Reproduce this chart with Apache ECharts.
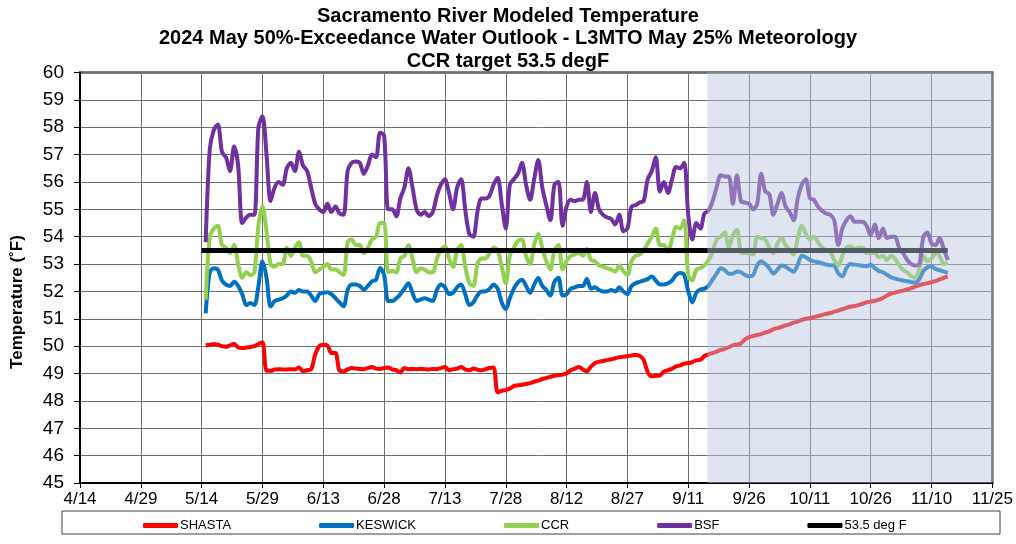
<!DOCTYPE html>
<html>
<head>
<meta charset="utf-8">
<title>Sacramento River Modeled Temperature</title>
<script src="https://cdn.jsdelivr.net/npm/echarts@6/dist/echarts.min.js"></script>
<style>
  html, body { margin: 0; padding: 0; background: #fff; }
  #chart { width: 1016px; height: 544px; }
</style>
</head>
<body>
<div id="chart"></div>
<script>
// axis runs from 4/14 to 11/25, ticks every 15 days
const axisStart = '2024-04-14';
const axisEnd = '2024-11-25';
const firstDate = '2024-05-15'; // first daily value of each series
const shadeStart = '2024-09-16';
const targetDates = ['2024-05-14', '2024-11-14'];
const targetValue = 53.5;

const shasta = [
  50.03, 50.05, 50.08, 50.05, 50.0, 49.98, 50.03, 50.09, 49.95, 49.93,
  49.95, 49.97, 50.0, 50.08, 50.14, 49.1, 49.1, 49.15, 49.16, 49.15,
  49.15, 49.16, 49.15, 49.22, 49.08, 49.12, 49.15, 49.7, 50.0, 50.05,
  50.03, 49.75, 49.75, 49.1, 49.08, 49.15, 49.2, 49.18, 49.17, 49.16,
  49.2, 49.24, 49.18, 49.17, 49.2, 49.22, 49.15, 49.12, 49.04, 49.2,
  49.16, 49.17, 49.16, 49.17, 49.16, 49.15, 49.17, 49.16, 49.2, 49.24,
  49.12, 49.16, 49.18, 49.24, 49.15, 49.12, 49.18, 49.14, 49.12, 49.16,
  49.2, 49.22, 48.31, 48.37, 48.4, 48.45, 48.55, 48.57, 48.59, 48.62,
  48.65, 48.7, 48.74, 48.8, 48.84, 48.88, 48.92, 48.94, 48.96, 49.0,
  49.12, 49.18, 49.24, 49.15, 49.08, 49.25, 49.38, 49.43, 49.46, 49.49,
  49.52, 49.56, 49.6, 49.61, 49.63, 49.66, 49.68, 49.65, 49.5, 49.05,
  48.9, 48.92, 48.93, 49.08, 49.12, 49.18, 49.26, 49.3, 49.36, 49.38,
  49.42, 49.48, 49.5, 49.64, 49.7, 49.75, 49.8, 49.86, 49.9, 49.96,
  50.03, 50.06, 50.1, 50.25, 50.33, 50.37, 50.41, 50.44, 50.5, 50.54,
  50.62, 50.66, 50.7, 50.76, 50.8, 50.86, 50.9, 50.96, 51.0, 51.02,
  51.06, 51.1, 51.14, 51.18, 51.21, 51.26, 51.3, 51.35, 51.4, 51.44,
  51.47, 51.5, 51.55, 51.6, 51.63, 51.66, 51.7, 51.76, 51.85, 51.92,
  51.96, 52.0, 52.03, 52.07, 52.12, 52.18, 52.23, 52.27, 52.3, 52.34,
  52.38, 52.44, 52.5, 52.55
];

const keswick = [
  51.2, 52.7, 52.85, 52.8, 52.4, 52.25, 52.2, 52.35, 52.2, 51.9,
  51.5, 51.58, 51.5, 52.2, 53.1, 52.5, 51.45, 51.65, 51.7, 51.75,
  51.85, 52.0, 51.95, 52.05, 52.0, 52.0, 51.85, 51.65, 51.9, 51.95,
  51.97, 51.9, 51.75, 51.6, 51.46, 52.05, 52.25, 52.25, 52.2, 52.07,
  52.2, 52.37, 52.43, 52.86, 52.6, 51.65, 51.65, 51.75, 51.9, 52.1,
  52.3, 51.95, 51.65, 51.7, 51.75, 51.7, 51.65, 52.05, 52.25, 52.15,
  51.9, 51.95, 52.15, 52.25, 51.9, 51.5, 51.6, 51.85, 52.0, 52.0,
  52.1, 52.25, 52.1, 51.6, 51.35, 51.75, 52.1, 52.33, 52.43, 52.2,
  51.95, 52.25, 52.49, 52.2, 52.05, 51.85, 52.35, 52.5, 51.85, 51.9,
  52.1, 52.15, 52.2, 52.2, 52.45, 52.1, 52.15, 52.05, 52.0, 52.0,
  52.05, 52.0, 52.15, 52.0, 51.9, 52.2, 52.3, 52.35, 52.4, 52.45,
  52.55, 52.4, 52.25, 52.25, 52.3, 52.4, 52.6, 52.67, 52.6, 52.0,
  51.6, 51.95, 52.07, 52.1, 52.2, 52.43, 52.65, 52.85, 52.78, 52.65,
  52.65, 52.73, 52.7, 52.6, 52.55, 52.6, 52.95, 53.1, 53.0, 52.85,
  52.65, 52.8, 52.95, 52.9, 52.8, 52.72, 52.98, 53.3, 53.25, 53.15,
  53.1, 53.07, 53.03, 52.98, 52.96, 52.94, 52.67, 52.55, 52.85, 53.0,
  52.98, 52.96, 52.94, 52.92, 52.98, 52.85, 52.75, 52.7, 52.61, 52.52,
  52.47, 52.43, 52.4, 52.37, 52.34, 52.32, 52.45, 52.75, 52.88, 52.92,
  52.82, 52.78, 52.73, 52.67
];

const ccr = [
  51.7, 54.0, 54.3, 54.4, 53.7, 53.6, 53.4, 53.7, 53.0, 52.5,
  52.7, 52.6, 52.7, 54.4, 55.1, 54.2, 53.0, 52.9, 53.0, 53.0,
  53.6, 53.3, 53.6, 53.8, 53.3, 53.3, 53.1, 52.7, 52.8, 52.9,
  53.0, 52.8, 52.8, 52.7, 52.6, 53.8, 53.9, 53.7, 53.7, 53.4,
  53.6, 53.9, 54.0, 54.5, 54.5, 52.7, 52.75, 52.7, 53.2, 53.3,
  53.7, 53.2, 52.7, 52.85, 52.8, 52.7, 52.7, 53.2, 53.5, 53.65,
  53.2, 52.9, 53.5, 53.7, 52.9, 52.3, 52.2, 53.0, 53.2, 53.2,
  53.4, 53.6, 53.5, 52.9, 52.3, 53.3, 53.6, 53.85, 53.9, 53.3,
  53.0, 53.7, 54.1, 53.6, 53.1, 52.8, 53.5, 53.7, 52.8, 53.1,
  53.3, 53.35, 53.4, 53.3, 53.55, 53.15, 53.1, 52.95, 52.9, 52.85,
  52.8, 52.73, 52.95, 52.75, 52.6, 53.1, 53.3, 53.35, 53.5, 53.75,
  54.0, 54.3, 53.7, 53.7, 53.45, 53.9, 54.35, 54.3, 54.6, 52.6,
  52.4, 52.8, 52.85, 52.95, 53.15, 53.45, 53.9, 54.0, 54.15, 53.6,
  54.05, 54.25, 53.45, 53.4, 53.4, 53.35, 54.0, 53.95, 53.9, 53.6,
  53.4, 53.75, 53.95, 53.7, 53.5, 53.35, 53.95, 54.4, 54.1, 53.9,
  54.0, 53.8, 53.6, 53.5, 53.45, 53.15, 52.95, 53.3, 53.6, 53.65,
  53.55, 53.6, 53.6, 53.4, 53.4, 53.4, 53.25, 53.3, 53.15, 53.3,
  53.2, 52.95, 52.78, 52.7, 52.55, 52.5, 52.8, 53.3, 53.1, 53.2,
  53.4, 53.3, 53.0, 53.05
];

const bsf = [
  53.8, 57.2, 57.9, 58.1, 57.1, 56.9, 56.4, 57.3, 56.6, 54.5,
  54.7, 54.8, 54.8, 58.0, 58.4, 57.0, 55.3, 55.8, 56.0, 55.9,
  56.5, 56.7, 56.4, 57.1, 56.6, 56.4, 55.8, 55.2, 55.0, 54.9,
  55.2, 54.9, 55.1, 54.85, 54.8, 56.4, 56.7, 56.75, 56.7, 56.3,
  56.6, 57.0, 56.9, 57.8, 57.7, 55.0, 55.0, 54.75, 55.4, 55.8,
  56.5, 55.8, 55.0, 54.8, 54.9, 54.75, 54.9, 55.5, 55.9, 56.1,
  55.6, 55.0, 55.8, 56.1, 55.0, 54.1, 54.0, 54.9, 55.4, 55.4,
  55.5, 55.9, 56.15, 55.2, 54.3, 55.9, 56.1, 56.3, 56.7, 55.9,
  55.35, 56.1, 56.8, 55.8, 55.15, 54.6, 55.9, 56.0, 54.4, 55.1,
  55.35, 55.3, 55.35, 55.35, 56.0, 54.9, 55.6, 55.0, 54.8, 54.7,
  54.65, 54.45, 54.8, 54.2, 54.3, 55.1, 55.15, 55.25, 55.3, 56.1,
  56.4, 56.9, 55.65, 56.0, 55.6, 56.1, 56.55, 56.5, 56.7, 54.8,
  53.9, 54.5, 54.3, 54.85, 54.95, 55.3, 55.8, 56.25, 56.2, 56.2,
  55.2, 56.25, 55.3, 55.25, 55.2, 55.0, 55.2, 56.3, 55.65, 55.55,
  54.8, 55.2, 55.6, 55.1, 54.9, 54.6, 55.4, 55.9, 56.1, 55.4,
  55.35, 55.1, 54.95, 54.85, 54.8, 54.6, 53.7, 54.3, 54.6, 54.75,
  54.55, 54.55, 54.55, 54.4, 54.05, 54.45, 53.95, 54.3, 53.95, 54.0,
  54.0, 53.6, 53.4, 53.15, 53.0, 52.95, 53.0, 54.0, 54.15, 53.75,
  53.7, 53.95, 53.55, 53.15
];

const font = 'Arial, "Liberation Sans", sans-serif';
const DAY = 86400000;
function dayOf(s) {
  return Math.round((Date.parse(s) - Date.parse(axisStart)) / DAY);
}
function daily(values) {
  const d0 = dayOf(firstDate);
  return values.map((v, i) => [d0 + i, v]);
}
function dayLabel(v) {
  const d = new Date(Date.parse(axisStart) + v * DAY);
  return (d.getUTCMonth() + 1) + '/' + d.getUTCDate();
}

const myChart = echarts.init(document.getElementById('chart'));

function lineSeries(name, values, color) {
  return {
    name: name,
    type: 'line',
    data: daily(values),
    symbol: 'none',
    smooth: 0.3,
    lineStyle: { color: color, width: 4 },
    itemStyle: { color: color },
    z: 2
  };
}

const option = {
  animation: false,
  backgroundColor: '#fff',
  textStyle: { fontFamily: font },
  title: {
    text: 'Sacramento River Modeled Temperature\n2024 May 50%-Exceedance Water Outlook - L3MTO May 25% Meteorology\nCCR target 53.5 degF',
    left: 'center',
    top: 0,
    textStyle: { fontSize: 20, fontWeight: 'bold', color: '#000', lineHeight: 22.5, fontFamily: font }
  },
  grid: {
    left: 80, right: 23, top: 72.5, bottom: 61,
    show: true, borderColor: '#000', borderWidth: 2
  },
  legend: {
    data: ['SHASTA', 'KESWICK', 'CCR', 'BSF', '53.5 deg F'],
    left: 138,
    top: 514,
    icon: 'roundRect',
    itemWidth: 35,
    itemHeight: 5,
    itemGap: 88,
    textStyle: { fontSize: 13, color: '#000', fontFamily: font, padding: [0, 0, 0, -3] }
  },
  xAxis: {
    type: 'value',
    min: 0,
    max: dayOf(axisEnd),
    interval: 15,
    axisLine: { show: true, lineStyle: { color: '#000', width: 2 } },
    axisTick: { show: true, length: 5, lineStyle: { color: '#000' } },
    axisLabel: { formatter: dayLabel, fontSize: 17, color: '#000', margin: 8, showMinLabel: true, showMaxLabel: true },
    splitLine: { show: true, lineStyle: { color: '#6f6f6f', width: 1 } }
  },
  yAxis: {
    type: 'value',
    min: 45,
    max: 60,
    interval: 1,
    axisLine: { show: true, lineStyle: { color: '#000', width: 2 } },
    axisTick: { show: true, length: 6, lineStyle: { color: '#000' } },
    axisLabel: { fontSize: 19, color: '#000', margin: 16 },
    splitLine: { show: true, lineStyle: { color: '#6f6f6f', width: 1 } }
  },
  graphic: [
    {
      type: 'text',
      x: 17, y: 302,
      rotation: Math.PI / 2,
      style: {
        text: 'Temperature (˚F)',
        fontSize: 17, fontWeight: 'bold', fontFamily: font,
        fill: '#000', align: 'center', verticalAlign: 'middle'
      }
    },
    {
      type: 'rect',
      shape: { x: 62, y: 511, width: 938, height: 23 },
      style: { fill: 'none', stroke: '#404040', lineWidth: 1 },
      z: -1
    }
  ],
  series: [
    lineSeries('SHASTA', shasta, '#ff0000'),
    lineSeries('KESWICK', keswick, '#0070c0'),
    lineSeries('CCR', ccr, '#92d050'),
    lineSeries('BSF', bsf, '#7030a0'),
    {
      name: '53.5 deg F',
      type: 'line',
      data: targetDates.map(d => [dayOf(d), targetValue]),
      symbol: 'none',
      lineStyle: { color: '#000', width: 5 },
      itemStyle: { color: '#000' },
      z: 3
    },
    {
      // forecast period, laid over the lines as in the original
      name: 'shade',
      type: 'line',
      data: [],
      symbol: 'none',
      z: 10,
      markArea: {
        silent: true,
        z: 10,
        itemStyle: { color: 'rgba(183,196,222,0.46)' },
        data: [[{ xAxis: dayOf(shadeStart) - 0.3 }, { xAxis: dayOf(axisEnd) }]]
      }
    }
  ]
};

myChart.setOption(option);
window.addEventListener('resize', () => myChart.resize());
</script>
</body>
</html>
